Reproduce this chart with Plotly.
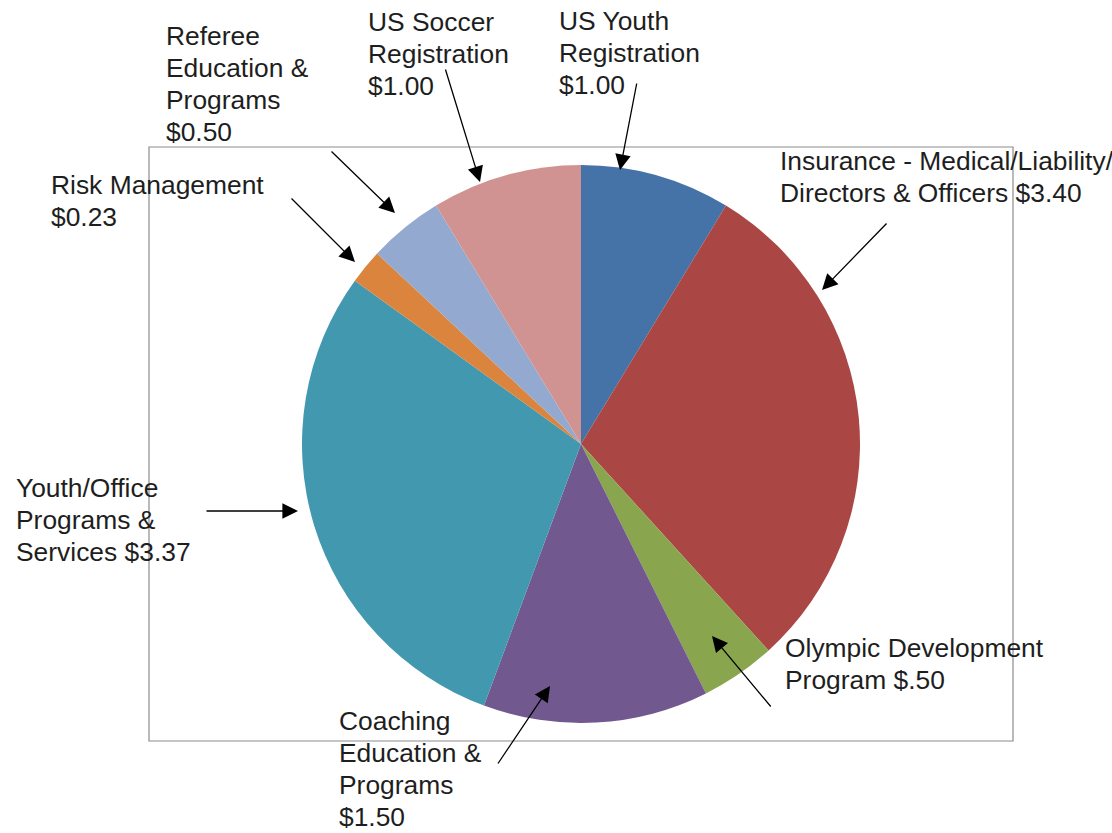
import plotly.graph_objects as go

# ---- data ----
categories = [
    "US Youth Registration",
    "Insurance - Medical/Liability/Directors & Officers",
    "Olympic Development Program",
    "Coaching Education & Programs",
    "Youth/Office Programs & Services",
    "Risk Management",
    "Referee Education & Programs",
    "US Soccer Registration",
]
values = [1.00, 3.40, 0.50, 1.50, 3.37, 0.23, 0.50, 1.00]
label_lines = [
    ["US Youth", "Registration", "$1.00"],
    ["Insurance - Medical/Liability/", "Directors & Officers $3.40"],
    ["Olympic Development", "Program $.50"],
    ["Coaching", "Education &", "Programs", "$1.50"],
    ["Youth/Office", "Programs &", "Services $3.37"],
    ["Risk Management", "$0.23"],
    ["Referee", "Education &", "Programs", "$0.50"],
    ["US Soccer", "Registration", "$1.00"],
]

# ---- style / layout ----
W, H = 1112, 833
colors = ["#4572A7", "#AA4643", "#89A54E", "#71588F",
          "#4198AF", "#DB843D", "#93A9CF", "#D19392"]
cx, cy, r = 581, 444, 279
FONT = dict(family="Liberation Sans, Arial, sans-serif", size=26.4, color="#1e1e1e")
LINE_H = 32
Y_ADJ = 1  # offset from cap-centre to annotation box middle

# label left x and first-line centre y (px)
label_pos = [(558, 20), (779, 160), (784, 647), (338, 720),
             (15, 487), (50, 184), (165, 35), (367, 21)]
arrows = [((637, 82), (620, 170)),
          ((888, 222), (822, 290)),
          ((772, 708), (712, 636)),
          ((497, 765), (550, 686)),
          ((205, 511), (298, 511)),
          ((290, 197), (355, 262)),
          ((330, 150), (395, 213)),
          ((445, 68), (480, 182))]

fig = go.Figure(go.Pie(
    labels=categories,
    values=values,
    sort=False,
    direction="clockwise",
    rotation=0,
    marker=dict(colors=colors, line=dict(width=0)),
    textinfo="none",
    hoverinfo="label+value",
    domain=dict(x=[(cx - r) / W, (cx + r) / W],
                y=[1 - (cy + r) / H, 1 - (cy - r) / H]),
    showlegend=False,
))

annotations = []
for lines, (lx, ly) in zip(label_lines, label_pos):
    for i, line in enumerate(lines):
        yy = ly + i * LINE_H + Y_ADJ
        annotations.append(dict(
            x=lx / W, y=1 - yy / H, xref="paper", yref="paper",
            xanchor="left", yanchor="middle", align="left",
            text=line, showarrow=False, font=FONT, borderpad=0,
        ))
for (tail, head) in arrows:
    annotations.append(dict(
        x=head[0] / W, y=1 - head[1] / H, xref="paper", yref="paper",
        ax=tail[0] - head[0], ay=tail[1] - head[1], axref="pixel", ayref="pixel",
        text="", showarrow=True, arrowhead=2, arrowsize=2.4, arrowwidth=1.3,
        arrowcolor="#000000", standoff=0, startstandoff=0,
    ))

fig.update_layout(
    width=W, height=H,
    margin=dict(l=0, r=0, t=0, b=0),
    paper_bgcolor="white", plot_bgcolor="white",
    annotations=annotations,
    shapes=[dict(type="rect", xref="paper", yref="paper",
                 x0=149 / W, x1=1013 / W, y0=1 - 741 / H, y1=1 - 147 / H,
                 line=dict(color="#8c8c8c", width=1.2), fillcolor="rgba(0,0,0,0)",
                 layer="below")],
)

fig.write_html("out.html", config={"displayModeBar": False},
               post_script="document.body.style.margin='0';document.body.style.overflow='hidden';")
